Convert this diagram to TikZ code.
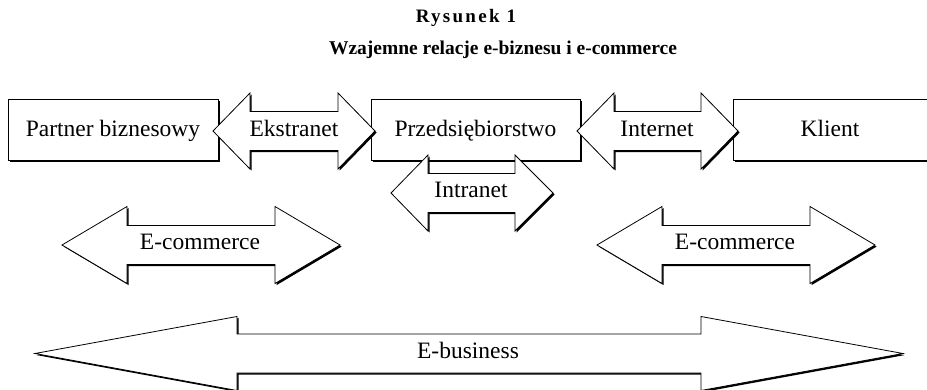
\documentclass[tikz,border=0pt]{standalone}
\usepackage{fontspec}
\setmainfont{Liberation Serif}
\usetikzlibrary{shadows}

% double arrow: left tip, left head back, right head back, right tip, y, shaft half, head half
\newcommand{\dblarrow}[7]{%
  \path[arrshadow] (#1,#5) -- (#2,#5-#7) -- (#2,#5-#6) -- (#3,#5-#6) -- (#3,#5-#7) -- (#4,#5)
    -- (#3,#5+#7) -- (#3,#5+#6) -- (#2,#5+#6) -- (#2,#5+#7) -- cycle;
  \path[arrbody] (#1,#5) -- (#2,#5-#7) -- (#2,#5-#6) -- (#3,#5-#6) -- (#3,#5-#7) -- (#4,#5)
    -- (#3,#5+#7) -- (#3,#5+#6) -- (#2,#5+#6) -- (#2,#5+#7) -- cycle;}

\tikzset{
  box/.style={draw, fill=white, line width=0.8pt, minimum height=61pt, inner sep=0pt,
    font=\fontsize{23.5}{28}\selectfont, text height=19pt, text depth=5pt,
    drop shadow={shadow xshift=1.6pt, shadow yshift=-1.6pt, opacity=1, fill=black}},
  txt/.style={font=\fontsize{23.5}{28}\selectfont, inner sep=0pt, text height=16pt, text depth=5pt},
  arrbody/.style={draw, fill=white, line width=0.8pt, line join=miter},
  arrshadow/.style={fill=black, xshift=1.6pt, yshift=-1.6pt},
}

\begin{document}
\begin{tikzpicture}[x=1pt, y=-1pt]
\clip (0,0) rectangle (927,389);
\fill[white] (0,0) rectangle (927,389);

\node[font=\bfseries\fontsize{19}{22}\selectfont\addfontfeature{LetterSpace=12}] (nr) at (466,18) {Rysunek 1};
\node[font=\bfseries\fontsize{19.5}{22}\selectfont] (title) at (503,50) {Wzajemne relacje e-biznesu i e-commerce};

% top row
\node[box, minimum width=210pt] (partner) at (113,129.5) {Partner biznesowy};
\node[box, minimum width=209pt] (firma) at (475.5,129.5) {Przedsiębiorstwo};
\node[box, minimum width=210pt] (klient) at (838,129.5) {\hspace*{-16pt}Klient};

\dblarrow{213}{250}{338}{375}{131}{19.5}{38}
\node[txt] (ekstranet) at (294,131) {Ekstranet};
\dblarrow{577}{614}{701}{738}{131}{19.5}{38}
\node[txt] (internet) at (657,131) {Internet};
\dblarrow{391}{428}{515}{553}{193}{19.5}{38}
\node[txt] (intranet) at (471,192) {Intranet};

% e-commerce
\dblarrow{62}{127}{275}{340}{245}{19.5}{38.5}
\node[txt] (ecom1) at (200,244) {E-commerce};
\dblarrow{597}{662}{810}{875}{245}{19.5}{38.5}
\node[txt] (ecom2) at (735,244) {E-commerce};

% e-business
\dblarrow{35}{237}{701}{903}{353.5}{19.5}{37}
\node[txt] (ebiz) at (468,353) {E-business};
\end{tikzpicture}
\end{document}
